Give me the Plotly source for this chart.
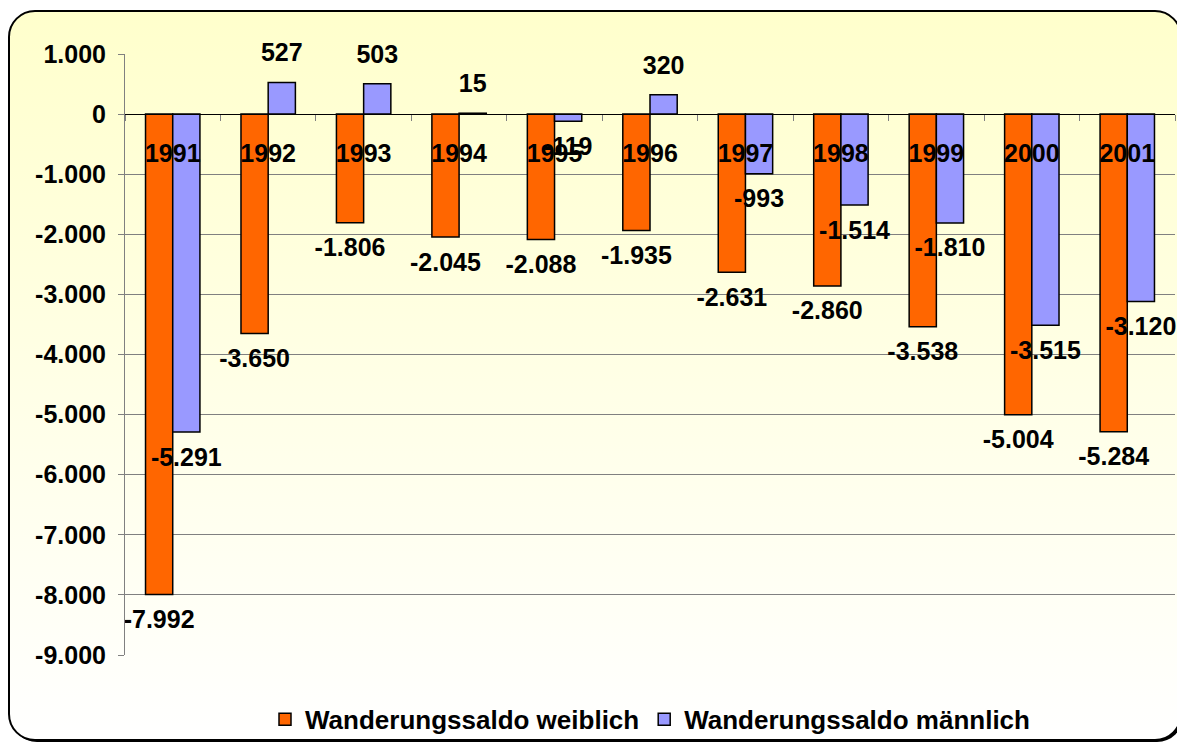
import base64
import plotly.graph_objects as go

years = ["1991", "1992", "1993", "1994", "1995", "1996", "1997", "1998", "1999", "2000", "2001"]
weiblich = [-7992, -3650, -1806, -2045, -2088, -1935, -2631, -2860, -3538, -5004, -5284]
maennlich = [-5291, 527, 503, 15, -119, 320, -993, -1514, -1810, -3515, -3120]
name_w = "Wanderungssaldo weiblich"
name_m = "Wanderungssaldo männlich"
y_ticks = list(range(-9000, 1001, 1000))


def de(v):
    return f"{v:,}".replace(",", ".")


# page body has an 8px margin, so the figure is laid out 8px smaller
OFF = 8
W, H = 1185 - OFF, 745 - OFF
L, R, T, B = 125 - OFF, 10, 54 - OFF, 90
PW, PH = W - L - R, H - T - B

FONT = "Liberation Sans"
FS = 25

svg = f"""<svg xmlns='http://www.w3.org/2000/svg' width='{W}' height='{H}' viewBox='0 0 {W} {H}'>
<defs><linearGradient id='g' x1='0' y1='0' x2='0' y2='1'>
<stop offset='0' stop-color='#FFFFCC'/><stop offset='1' stop-color='#FFFFFF'/></linearGradient></defs>
<rect x='3' y='5' width='1172' height='729' rx='26' ry='26' fill='#000'/>
<rect x='1' y='3' width='1172' height='729' rx='26' ry='26' fill='url(#g)' stroke='#000' stroke-width='2'/>
</svg>"""
svg_uri = "data:image/svg+xml;base64," + base64.b64encode(svg.encode()).decode()

fig = go.Figure()
fig.add_trace(go.Bar(x=years, y=weiblich, name=name_w,
                     marker=dict(color="#FF6600", line=dict(color="#000000", width=1.5)),
                     hoverinfo="skip"))
fig.add_trace(go.Bar(x=years, y=maennlich, name=name_m,
                     marker=dict(color="#9999FF", line=dict(color="#000000", width=1.5)),
                     hoverinfo="skip"))

for vals in (weiblich, maennlich):
    fig.add_trace(go.Scatter(
        x=years, y=vals, mode="markers+text",
        text=[de(v) for v in vals],
        textposition=["bottom center" if v < 0 else "top center" for v in vals],
        textfont=dict(family=FONT, size=FS, color="#000000", weight="bold"),
        marker=dict(size=22, color="rgba(0,0,0,0)"),
        showlegend=False, hoverinfo="skip", cliponaxis=False))

fig.update_layout(
    width=W, height=H,
    margin=dict(l=L, r=R, t=T, b=B, autoexpand=False),
    paper_bgcolor="#FFFFFF",
    plot_bgcolor="rgba(0,0,0,0)",
    barmode="group", bargap=0.43, bargroupgap=0,
    scattermode="group", scattergap=0.43,
    font=dict(family=FONT, size=FS, color="#000000"),
    showlegend=True,
    legend=dict(orientation="h", x=0.5, xanchor="center", y=-0.107, yanchor="middle",
                font=dict(family=FONT, size=26, color="#000000", weight="bold"),
                bgcolor="rgba(0,0,0,0)", itemclick=False, itemdoubleclick=False),
    images=[dict(source=svg_uri, xref="paper", yref="paper",
                 x=-L / PW, y=1 + T / PH, sizex=W / PW, sizey=H / PH,
                 xanchor="left", yanchor="top", sizing="stretch", layer="below")],
    xaxis=dict(type="category", anchor="free", position=9000 / 10000,
               showline=True, linecolor="#000000", linewidth=1,
               ticks="outside", tickson="boundaries", ticklen=6, tickcolor="#808080",
               showgrid=False, zeroline=False,
               tickfont=dict(family=FONT, size=FS, color="#000000", weight="bold"),
               ticklabelstandoff=17),
    yaxis=dict(range=[-9000, 1000], tickvals=y_ticks, ticktext=[de(v) for v in y_ticks],
               showline=True, linecolor="#808080", linewidth=1,
               ticks="outside", ticklen=6, tickcolor="#808080",
               showgrid=True, gridcolor="#808080", gridwidth=1, zeroline=False,
               tickfont=dict(family=FONT, size=FS, color="#000000", weight="bold"),
               ticklabelstandoff=7),
)

fig.write_html("out.html")
